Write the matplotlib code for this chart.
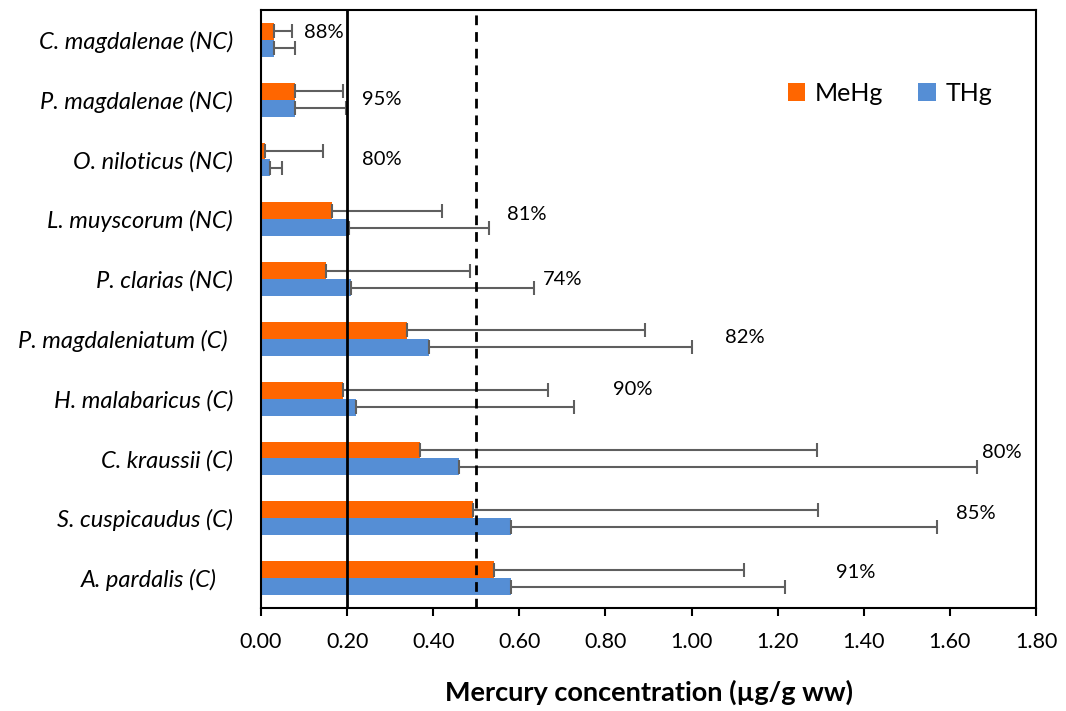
import numpy as np
import matplotlib
matplotlib.use("Agg")
import matplotlib.pyplot as plt

plt.rcParams['font.family'] = ['Lato', 'DejaVu Sans']

# species, top to bottom as in the chart
species = ["C. magdalenae (NC)", "P. magdalenae (NC)", "O. niloticus (NC)",
           "L. muyscorum (NC)", "P. clarias (NC)", "P. magdaleniatum (C) ",
           "H. malabaricus (C)", "C. kraussii (C)", "S. cuspicaudus (C)",
           "A. pardalis (C)   "]

mehg = [0.03, 0.08, 0.01, 0.165, 0.15, 0.34, 0.19, 0.37, 0.492, 0.542]
mehg_top = [0.072, 0.19, 0.145, 0.42, 0.485, 0.891, 0.666, 1.292, 1.294, 1.121]
thg = [0.03, 0.08, 0.02, 0.205, 0.21, 0.39, 0.22, 0.46, 0.58, 0.58]
thg_top = [0.08, 0.197, 0.05, 0.53, 0.635, 1.0, 0.727, 1.663, 1.571, 1.217]

ratio = ["88%", "95%", "80%", "81%", "74%", "82%", "90%", "80%", "85%", "91%"]
ratio_x = [0.146, 0.28, 0.28, 0.617, 0.70, 1.124, 0.864, 1.72, 1.66, 1.38]
ratio_dy = [0.12, 0.0, 0.0, 0.08, 0.0, 0.03, 0.15, 0.1, 0.08, 0.1]

orange = "#FF6600"
blue = "#558ED5"

n = len(species)
pos = np.arange(n)[::-1]  # first species at top
h = 0.283

fig = plt.figure(figsize=(10.66, 7.11), dpi=100)
ax = fig.add_axes([0.2448, 0.1449, 0.9719 - 0.2448, 0.986 - 0.1449])

mehg = np.array(mehg)
thg = np.array(thg)
ax.barh(pos + h / 2, mehg, height=h, color=orange, label="MeHg", zorder=2)
ax.barh(pos - h / 2, thg, height=h, color=blue, label="THg", zorder=2)

ekw = dict(fmt='none', ecolor='#5f5f5f', elinewidth=1.5, capsize=5, capthick=1.5, zorder=3)
ax.errorbar(mehg, pos + h / 2, xerr=[np.zeros(n), np.array(mehg_top) - mehg], **ekw)
ax.errorbar(thg, pos - h / 2, xerr=[np.zeros(n), np.array(thg_top) - thg], **ekw)

ax.axvline(0.2, color='black', lw=2, zorder=4)
ax.axvline(0.5, color='black', lw=2, ls=(0, (3.5, 2.5)), zorder=4)

for p, t, x, dy in zip(pos, ratio, ratio_x, ratio_dy):
    ax.text(x, p + dy, t, ha='center', va='center', fontsize=14.5, zorder=5)

ax.set_xlim(0, 1.8)
ax.set_ylim(-0.5, n - 0.5)
ax.set_xticks(np.arange(0, 1.81, 0.2))
ax.set_xticklabels([f"{v:.2f}" for v in np.arange(0, 1.81, 0.2)], fontsize=15.5)
ax.set_yticks(pos)
ax.set_yticklabels(species, fontsize=17, style='italic')
ax.tick_params(axis='y', length=0, pad=20)
ax.tick_params(axis='x', length=6, width=1.5, pad=11)
for s in ax.spines.values():
    s.set_linewidth(1.5)

ax.set_xlabel("Mercury concentration (µg/g ww)", fontsize=19.5, fontweight='bold', labelpad=20)

fig.legend(loc='center', bbox_to_anchor=(0.835, 0.869), ncol=2, frameon=False,
           fontsize=18, handlelength=0.7, handleheight=0.7, handletextpad=0.4,
           columnspacing=1.4)

fig.savefig("out.png", dpi=100)
